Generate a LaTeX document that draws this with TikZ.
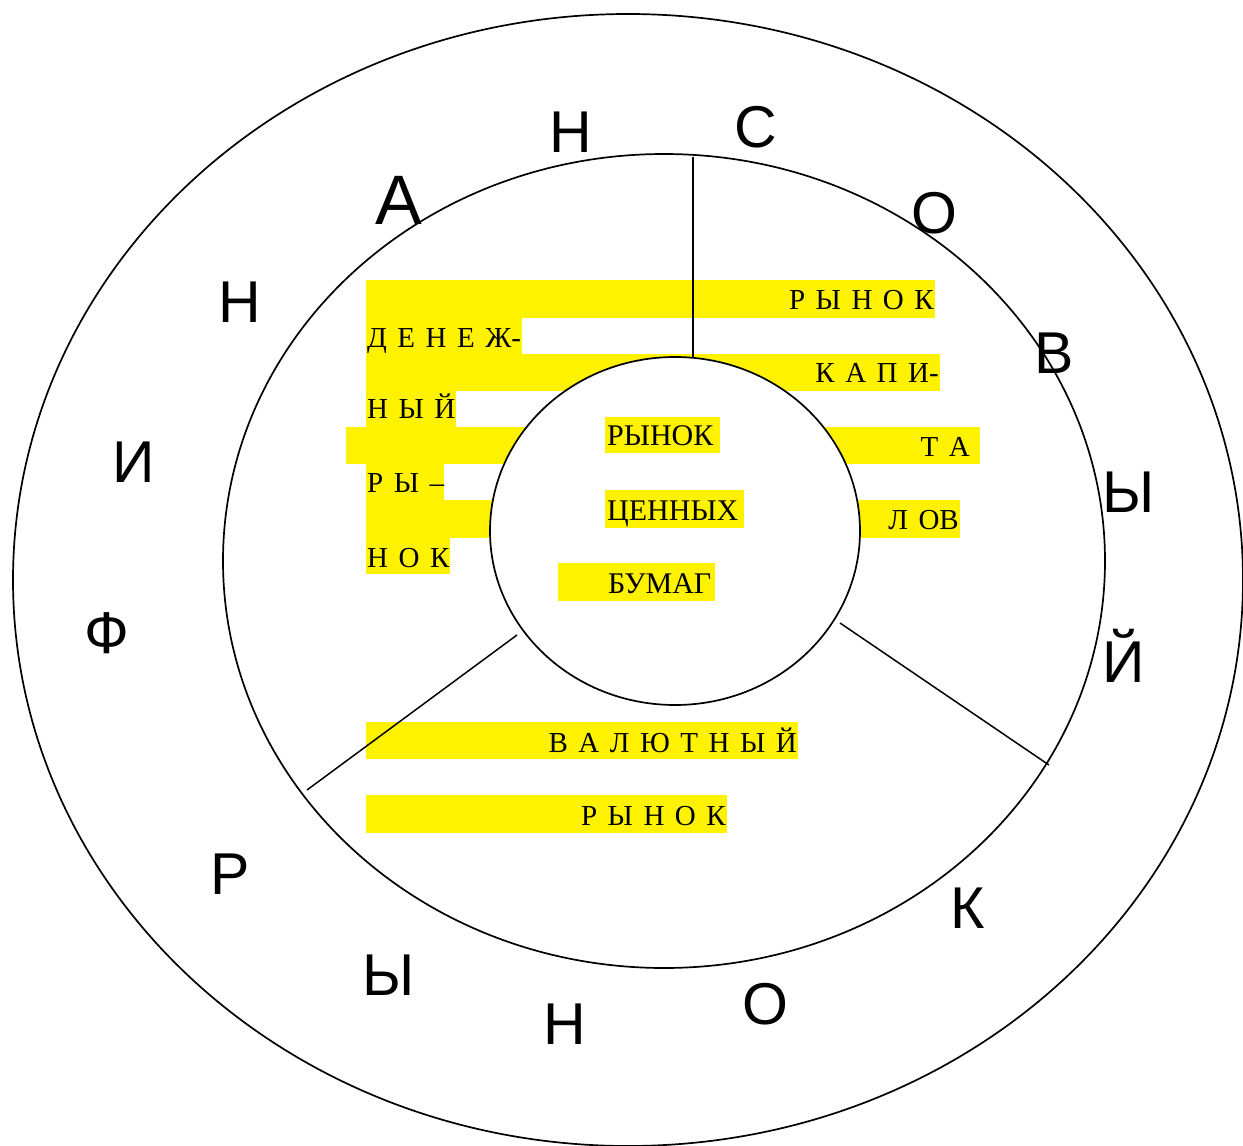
\documentclass[tikz,border=0pt]{standalone}
\usepackage{fontspec}
\setmainfont{Liberation Serif}
\newfontfamily\ringfont{Liberation Sans}
\newfontfamily\spfont[WordSpace=1.45]{Liberation Serif}
\usetikzlibrary{shapes.geometric}
\tikzset{
  hl/.style={fill=yellow, draw=none},
  ringltr/.style={font=\ringfont\fontsize{59}{60}\selectfont, inner sep=0pt},
  sptext/.style={font=\spfont\fontsize{29}{30}\selectfont, inner sep=0pt},
  ctext/.style={font=\fontsize{30}{32}\selectfont, inner sep=0pt},
  edgeline/.style={line width=1.5pt, black},
  oval/.style={draw=black, line width=1.7pt, ellipse, inner sep=0pt}
}
\begin{document}
\begin{tikzpicture}[x=1pt, y=-1pt]
\useasboundingbox (0,0) rectangle (1243,1146);
\fill[white] (0,0) rectangle (1243,1146);
% yellow highlight rows
\fill[hl] (366,280) rectangle (935,318);
\fill[hl] (366,318) rectangle (522,354);
\fill[hl] (366,354) rectangle (940,391);
\fill[hl] (366,391) rectangle (456,427);
\fill[hl] (346,427) rectangle (980,464);
\fill[hl] (366,464) rectangle (444,500);
\fill[hl] (366,500) rectangle (960,538);
\fill[hl] (366,538) rectangle (450,574);
\fill[hl] (366,722) rectangle (798,759);
\fill[hl] (366,795) rectangle (727,833);
% ellipses
\node[oval, minimum width=1230pt, minimum height=1132pt] (outer) at (628,580) {};
\node[oval, minimum width=882pt, minimum height=814pt] (inner) at (664,561) {};
\node[oval, fill=white, minimum width=370pt, minimum height=348pt] (core) at (675,531) {};
% highlight boxes in core
\fill[hl] (605,417) rectangle (720,453);
\fill[hl] (605,490) rectangle (744,528);
\fill[hl] (558,563) rectangle (715,601);
% dividing lines
\coordinate (vtop) at (693,157);
\coordinate (vbot) at (693,357);
\coordinate (lla) at (517,635);
\coordinate (llb) at (307,790);
\coordinate (lra) at (840,623);
\coordinate (lrb) at (1049,765);
\draw[edgeline] (vbot) -- (vtop);
\draw[edgeline] (lla) -- (llb);
\draw[edgeline] (lra) -- (lrb);
% spaced texts
\node[sptext, anchor=base east] (t1) at (934,309) {Р Ы Н О К};
\node[sptext, anchor=base west] (t2) at (367,347) {Д Е Н Е Ж-};
\node[sptext, anchor=base east] (t3) at (939,382) {К А П И-};
\node[sptext, anchor=base west] (t4) at (367,418) {Н Ы Й};
\node[sptext, anchor=base east] (t5) at (970,456) {Т А};
\node[sptext, anchor=base west] (t6) at (367,492) {Р Ы –};
\node[sptext, anchor=base east] (t7) at (959,529) {Л ОВ};
\node[sptext, anchor=base west] (t8) at (367,567) {Н О К};
\node[sptext, anchor=base east] (t9) at (797,752) {В А Л Ю Т Н Ы Й};
\node[sptext, anchor=base east] (t10) at (726,825) {Р Ы Н О К};
% core texts
\node[ctext, anchor=base west] (c1) at (607,445) {РЫНОК};
\node[ctext, anchor=base west] (c2) at (607,520) {ЦЕННЫХ};
\node[ctext, anchor=base west] (c3) at (608,593) {БУМАГ};
% ring letters
\node[ringltr] (r1) at (107,633) {Ф};
\node[ringltr] (r2) at (134,462) {И};
\node[ringltr] (r3) at (240,302) {Н};
\node[ringltr, font=\ringfont\fontsize{70}{72}\selectfont] (r4) at (399,200) {А};
\node[ringltr] (r5) at (571,132) {Н};
\node[ringltr] (r6) at (756,127) {С};
\node[ringltr] (r7) at (934,213) {О};
\node[ringltr] (r8) at (1054,353) {В};
\node[ringltr] (r9) at (1129,492) {Ы};
\node[ringltr, anchor=base] (r10) at (1124,682) {Й};
\node[ringltr] (r11) at (230,874) {Р};
\node[ringltr] (r12) at (389,975) {Ы};
\node[ringltr] (r13) at (565,1024) {Н};
\node[ringltr] (r14) at (765,1004) {О};
\node[ringltr] (r15) at (968,908) {К};
\end{tikzpicture}
\end{document}
